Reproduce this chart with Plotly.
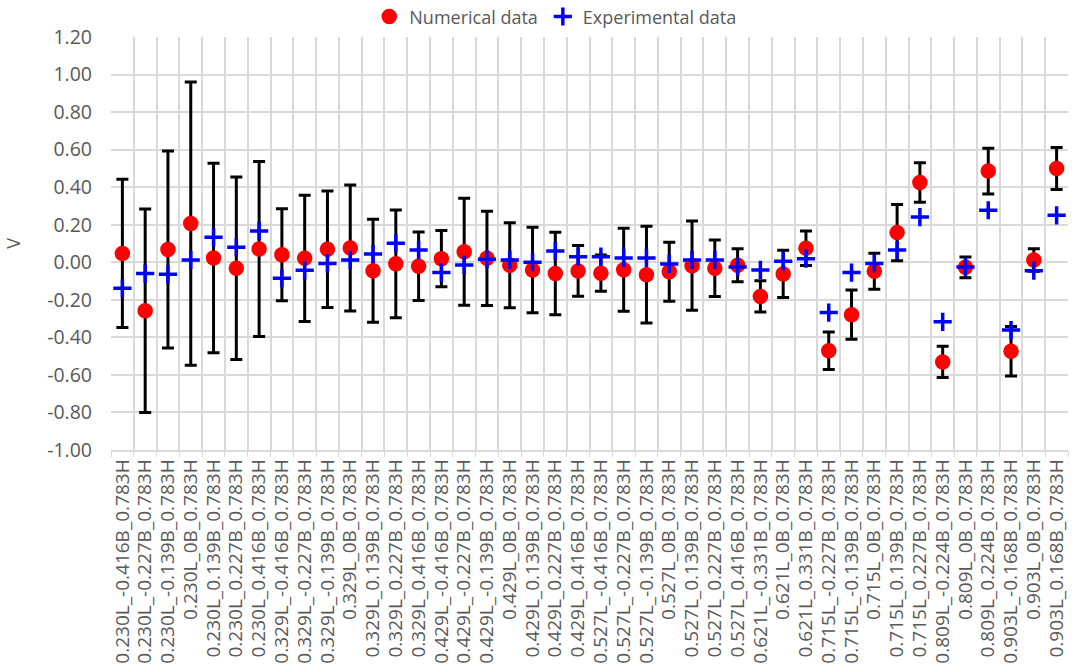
import plotly.graph_objects as go

# Measurement positions (L / B / H coordinates)
categories = [
    "0.230L_-0.416B_0.783H", "0.230L_-0.227B_0.783H", "0.230L_-0.139B_0.783H",
    "0.230L_0B_0.783H", "0.230L_0.139B_0.783H", "0.230L_0.227B_0.783H",
    "0.230L_0.416B_0.783H", "0.329L_-0.416B_0.783H", "0.329L_-0.227B_0.783H",
    "0.329L_-0.139B_0.783H", "0.329L_0B_0.783H", "0.329L_0.139B_0.783H",
    "0.329L_0.227B_0.783H", "0.329L_0.416B_0.783H", "0.429L_-0.416B_0.783H",
    "0.429L_-0.227B_0.783H", "0.429L_-0.139B_0.783H", "0.429L_0B_0.783H",
    "0.429L_0.139B_0.783H", "0.429L_0.227B_0.783H", "0.429L_0.416B_0.783H",
    "0.527L_-0.416B_0.783H", "0.527L_-0.227B_0.783H", "0.527L_-0.139B_0.783H",
    "0.527L_0B_0.783H", "0.527L_0.139B_0.783H", "0.527L_0.227B_0.783H",
    "0.527L_0.416B_0.783H", "0.621L_-0.331B_0.783H", "0.621L_0B_0.783H",
    "0.621L_0.331B_0.783H", "0.715L_-0.227B_0.783H", "0.715L_-0.139B_0.783H",
    "0.715L_0B_0.783H", "0.715L_0.139B_0.783H", "0.715L_0.227B_0.783H",
    "0.809L_-0.224B_0.783H", "0.809L_0B_0.783H", "0.809L_0.224B_0.783H",
    "0.903L_-0.168B_0.783H", "0.903L_0B_0.783H", "0.903L_0.168B_0.783H",
]

numerical = [
    0.047, -0.258, 0.068, 0.206, 0.023, -0.032, 0.071, 0.040, 0.021, 0.069,
    0.076, -0.045, -0.008, -0.021, 0.019, 0.056, 0.021, -0.016, -0.041, -0.060,
    -0.046, -0.058, -0.040, -0.066, -0.050, -0.018, -0.032, -0.016, -0.182, -0.062,
    0.075, -0.471, -0.279, -0.048, 0.158, 0.425, -0.531, -0.027, 0.486, -0.474,
    0.012, 0.500,
]

numerical_err = [
    0.395, 0.542, 0.525, 0.754, 0.505, 0.486, 0.466, 0.245, 0.336, 0.310,
    0.335, 0.274, 0.287, 0.182, 0.150, 0.285, 0.251, 0.226, 0.228, 0.220,
    0.135, 0.097, 0.221, 0.258, 0.157, 0.238, 0.150, 0.088, 0.083, 0.126,
    0.092, 0.100, 0.131, 0.096, 0.150, 0.105, 0.083, 0.055, 0.122, 0.132,
    0.060, 0.112,
]

experimental = [
    -0.139, -0.060, -0.064, 0.012, 0.133, 0.080, 0.167, -0.085, -0.043, -0.006,
    0.012, 0.044, 0.101, 0.065, -0.055, -0.014, 0.016, 0.012, 0.000, 0.060,
    0.030, 0.030, 0.023, 0.023, -0.009, 0.012, 0.012, -0.025, -0.041, 0.005,
    0.019, -0.268, -0.055, -0.006, 0.065, 0.241, -0.317, -0.025, 0.277, -0.361,
    -0.045, 0.250,
]

y_ticks = [-1.0, -0.8, -0.6, -0.4, -0.2, 0.0, 0.2, 0.4, 0.6, 0.8, 1.0, 1.2]
y_tick_text = [f"{v:.2f}" for v in y_ticks]

text_color = "#595959"
grid_color = "#d9d9d9"
font_family = "Open Sans, Noto Sans, Liberation Sans, sans-serif"

fig = go.Figure()

fig.add_trace(go.Scatter(
    x=categories,
    y=numerical,
    mode="markers",
    name="Numerical data",
    marker=dict(symbol="circle", size=15.5, color="#ff0000", line=dict(width=0)),
    error_y=dict(type="data", array=numerical_err, visible=True,
                 color="#000000", thickness=3, width=6),
))

fig.add_trace(go.Scatter(
    x=categories,
    y=experimental,
    mode="markers",
    name="Experimental data",
    marker=dict(symbol="cross-thin", size=13, color="#0000ff",
                line=dict(width=3.5, color="#0000ff")),
))

fig.update_layout(
    width=1072,
    height=671,
    margin=dict(l=111, r=4, t=37, b=221, autoexpand=False),
    paper_bgcolor="#ffffff",
    plot_bgcolor="#ffffff",
    font=dict(family=font_family, size=19, color=text_color),
    showlegend=True,
    legend=dict(
        orientation="h",
        xref="container", yref="container",
        x=0.518, y=0.975, xanchor="center", yanchor="middle",
        font=dict(size=18, color=text_color),
        itemwidth=30,
        tracegroupgap=0,
        bgcolor="rgba(0,0,0,0)",
    ),
)

fig.update_xaxes(
    type="category",
    tickmode="linear",
    tick0=0,
    dtick=1,
    tickson="boundaries",
    tickangle=-90,
    showgrid=True,
    gridcolor=grid_color,
    gridwidth=1.5,
    showline=True,
    linecolor=grid_color,
    linewidth=1.5,
    ticks="outside",
    ticklen=5,
    tickcolor=grid_color,
    tickfont=dict(size=19, color=text_color),
    range=[-0.5, len(categories) - 0.5],
    zeroline=False,
)

fig.update_yaxes(
    range=[-1.0, 1.2],
    tickvals=y_ticks,
    ticktext=y_tick_text,
    showgrid=True,
    gridcolor=grid_color,
    gridwidth=1.5,
    zeroline=False,
    showline=False,
    ticks="",
    ticklabelstandoff=18,
    tickfont=dict(size=19.5, color=text_color),
    title=dict(text="V", font=dict(size=18, color=text_color), standoff=21),
)

fig.write_html("out.html")
